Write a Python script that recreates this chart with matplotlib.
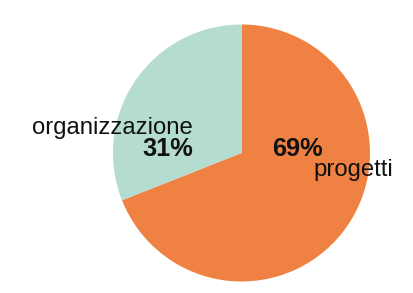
import matplotlib
matplotlib.use("Agg")
import matplotlib.pyplot as plt

labels = ["progetti", "organizzazione"]
values = [69, 31]
colors = ["#EF8243", "#B5DCD0"]

W, H = 414, 293
fig = plt.figure(figsize=(W / 100, H / 100), dpi=100)
ax = fig.add_axes([0, 0, 1, 1])
ax.set_xlim(0, W)
ax.set_ylim(0, H)
ax.set_aspect("equal")
ax.axis("off")

# pie in pixel coordinates (y measured from bottom)
ax.pie(values, colors=colors, startangle=90, counterclock=False,
       center=(241.5, H - 153), radius=128.5, frame=True)
ax.set_xlim(0, W)
ax.set_ylim(0, H)
ax.axis("off")

font = "Liberation Sans"
ax.text(193, H - 128, labels[1], ha="right", va="center",
        fontsize=17.2, family=font, color="#111111")
ax.text(193, H - 149, f"{values[1]}%", ha="right", va="center",
        fontsize=18.3, family=font, weight="bold", color="#111111")
ax.text(272, H - 149, f"{values[0]}%", ha="left", va="center",
        fontsize=18.3, family=font, weight="bold", color="#111111")
ax.text(313, H - 170, labels[0], ha="left", va="center",
        fontsize=17.2, family=font, color="#111111")

fig.savefig("out.png", dpi=100, facecolor="white")
